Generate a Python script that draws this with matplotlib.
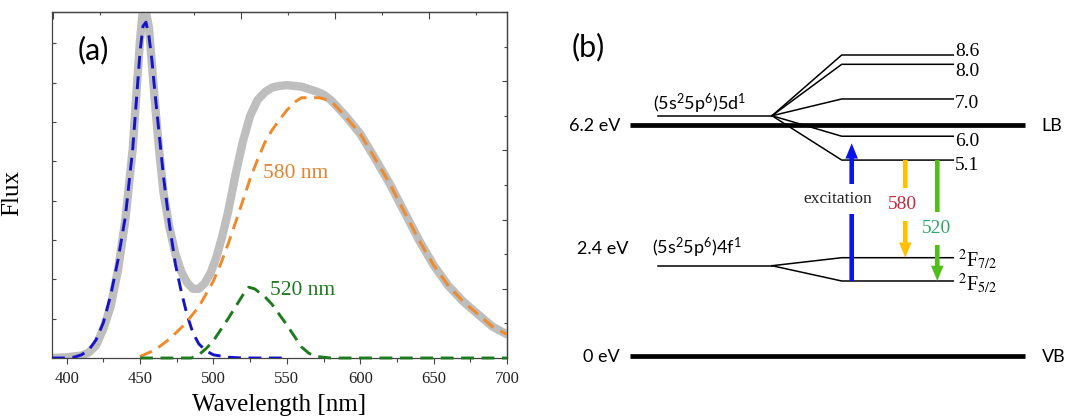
import matplotlib

matplotlib.use("Agg")

import matplotlib.pyplot as plt
import numpy as np
from matplotlib.ticker import MultipleLocator

plt.rcParams["mathtext.fontset"] = "custom"
plt.rcParams["mathtext.rm"] = "Lato"
plt.rcParams["mathtext.it"] = "Lato:italic"
plt.rcParams["mathtext.bf"] = "Lato:bold"

SERIF = ["Liberation Serif", "DejaVu Serif"]
SANS = ["Lato", "DejaVu Sans"]

# ---- panel (a): emission spectrum ----
wl_total = [390, 400, 405, 410, 415, 420, 425, 430, 435, 440, 445, 448, 450, 452, 454,
            456, 458, 460, 463, 466, 470, 474, 478, 482, 486, 490, 494, 498, 502, 506,
            510, 515, 520, 525, 530, 535, 540, 545, 550, 555, 560, 565, 570, 575, 580,
            590, 600, 610, 620, 630, 640, 650, 660, 670, 680, 690, 700]
flux_total = [0.0, 0.01, 0.02, 0.03, 0.07, 0.16, 0.37, 0.66, 1.12, 1.76, 2.66, 3.50, 4.05,
              4.45, 4.40, 4.21, 3.75, 3.28, 2.64, 2.10, 1.66, 1.33, 1.10, 0.96, 0.88, 0.88,
              0.95, 1.08, 1.28, 1.55, 1.86, 2.33, 2.75, 3.08, 3.28, 3.38, 3.44, 3.46, 3.47,
              3.46, 3.45, 3.42, 3.39, 3.35, 3.28, 3.08, 2.85, 2.54, 2.22, 1.86, 1.50, 1.18,
              0.92, 0.72, 0.56, 0.40, 0.30]

wl_blue = [390, 400, 405, 410, 415, 420, 425, 430, 435, 440, 445, 448, 450, 452, 454, 456,
           458, 460, 463, 466, 470, 474, 478, 482, 486, 490, 495, 500, 510, 520, 550]
flux_blue = [0.0, 0.0, 0.01, 0.04, 0.10, 0.23, 0.45, 0.80, 1.25, 1.80, 2.66, 3.40, 3.90,
             4.22, 4.27, 4.10, 3.80, 3.40, 2.85, 2.30, 1.70, 1.20, 0.85, 0.55, 0.32, 0.18,
             0.09, 0.04, 0.01, 0.0, 0.0]

wl_orange = [450, 460, 470, 480, 490, 500, 505, 510, 515, 520, 525, 530, 535, 540, 545,
             550, 555, 560, 572, 580, 590, 600, 610, 620, 630, 640, 650, 660, 670, 680,
             690, 700]
flux_orange = [0.02, 0.10, 0.24, 0.42, 0.65, 0.98, 1.20, 1.45, 1.72, 2.00, 2.28, 2.52,
               2.74, 2.90, 3.03, 3.15, 3.25, 3.31, 3.31, 3.27, 3.07, 2.85, 2.54, 2.22,
               1.86, 1.50, 1.18, 0.92, 0.72, 0.56, 0.40, 0.30]

wl_green = [450, 485, 490, 495, 500, 505, 510, 515, 520, 524, 528, 535, 540, 545, 550,
            555, 560, 565, 570, 580, 700]
flux_green = [0.0, 0.0, 0.04, 0.12, 0.22, 0.36, 0.50, 0.65, 0.80, 0.90, 0.88, 0.78, 0.68,
              0.55, 0.42, 0.28, 0.14, 0.06, 0.02, 0.0, 0.0]

# ---- panel (b): energy level scheme (eV, positions as drawn) ----
band_names = ["LB", "VB"]
band_energies = [6.2, 0.0]
band_labels = ["6.2 eV", "0 eV"]

level_5d = 6.44
split_5d = [8.07, 7.82, 6.89, 5.89, 5.25]
split_5d_labels = ["8.6", "8.0", "7.0", "6.0", "5.1"]
split_5d_label_y = [8.22, 7.68, 6.82, 5.79, 5.17]

level_4f = 2.415
split_4f = [2.63, 2.005]
split_4f_labels = [r"$^{2}$F$_{7/2}$", r"$^{2}$F$_{5/2}$"]
split_4f_label_y = [2.39, 1.76]

transition_names = ["excitation", "580", "520"]
transition_from = [2.005, 5.25, 5.25]
transition_to = [5.70, 2.63, 2.005]
transition_colors = ["#0A14E8", "#FFC000", "#52BE1A"]
transition_text_colors = ["#222222", "#C8283A", "#2EA868"]
transition_label_y = [4.20, 4.06, 3.42]


def draw_spectrum(ax):
    ax.plot(wl_total, flux_total, color="#BEBEBE", lw=6.0, solid_capstyle="round", zorder=2)
    dash = (0, (4.4, 2.6))
    ax.plot(wl_blue, flux_blue, color="#1414C8", lw=2.1, ls=dash, zorder=3)
    ax.plot(wl_orange, flux_orange, color="#EE8A2A", lw=2.1, ls=dash, zorder=3)
    ax.plot(wl_green, flux_green, color="#1E7A1E", lw=2.1, ls=dash, zorder=3, clip_on=False)

    ax.set_xlim(390, 700)
    ax.set_ylim(0, 4.4)

    ax.xaxis.set_major_locator(MultipleLocator(50))
    ax.xaxis.set_minor_locator(MultipleLocator(25))
    ax.yaxis.set_major_locator(MultipleLocator(0.5))
    ax.tick_params(axis="x", which="major", direction="out", length=4.3, width=0.8,
                   color="#444444", pad=5, labelsize=12, top=False)
    ax.tick_params(axis="x", which="minor", direction="out", length=2.6, width=0.8,
                   color="#444444", top=False)
    ax.tick_params(axis="y", which="both", direction="in", length=3, width=0.8,
                   color="#444444", labelleft=False, right=False)
    for label in ax.get_xticklabels():
        label.set_family(SERIF)
        label.set_color("#222222")

    top = ax.secondary_xaxis("top", functions=(lambda x: (x - 454.9) / 63.9 + 1,
                                               lambda t: (t - 1) * 63.9 + 454.9))
    top.xaxis.set_major_locator(MultipleLocator(1))
    top.xaxis.set_minor_locator(MultipleLocator(0.5))
    top.tick_params(which="major", direction="in", length=5, width=0.8, color="#444444",
                    labeltop=False)
    top.tick_params(which="minor", direction="in", length=2.5, width=0.8, color="#444444")

    right = ax.secondary_yaxis("right", functions=(lambda v: v * 10 / 4.4,
                                                   lambda v: v * 4.4 / 10))
    right.yaxis.set_major_locator(MultipleLocator(2))
    right.yaxis.set_minor_locator(MultipleLocator(1))
    right.tick_params(which="major", direction="in", length=3.6, width=0.8,
                      color="#444444", labelright=False)
    right.tick_params(which="minor", direction="in", length=2.2, width=0.8, color="#444444")

    for sec in (top, right):
        for spine in sec.spines.values():
            spine.set_color("#444444")
            spine.set_linewidth(0.9)
    for spine in ax.spines.values():
        spine.set_color("#444444")
        spine.set_linewidth(0.9)

    ax.set_xlabel("Wavelength [nm]", family=SERIF, fontsize=18, labelpad=5)
    ax.set_ylabel("Flux", family=SERIF, fontsize=18)
    ax.yaxis.set_label_coords(-0.064, 0.477)

    ax.text(533.9, 2.34, "580 nm", color="#E8822A", family=SERIF, fontsize=15.5,
            va="center", ha="left")
    ax.text(538.7, 0.86, "520 nm", color="#1E7A1E", family=SERIF, fontsize=15.5,
            va="center", ha="left")
    ax.text(0.091, 0.89, "(a)", transform=ax.transAxes, family=SANS, fontsize=22,
            ha="center", va="center")


def draw_levels(ax):
    # horizontal layout of the scheme (fractions of the band-line length)
    u_left, u_right = 0.0, 1.0
    u_free = (0.0709, 0.3595)
    u_split = (0.536, 0.8185)
    u_arrows = [0.5613, 0.697, 0.778]
    u_text = [0.5266, 0.691, 0.776]

    for name, energy, label in zip(band_names, band_energies, band_labels):
        ax.plot([u_left, u_right], [energy, energy], color="black", lw=3.4,
                solid_capstyle="butt", zorder=2)
        ax.text(-0.025, energy, label, family=SANS, fontsize=13, ha="right",
                va="center_baseline")
        ax.text(1.042, energy, name, family=SANS, fontsize=13, ha="left",
                va="center_baseline")

    for free_y, splits in ((level_5d, split_5d), (level_4f, split_4f)):
        ax.plot(u_free, [free_y, free_y], color="black", lw=1.1, zorder=3)
        for y in splits:
            ax.plot([u_free[1], u_split[0], u_split[1]], [free_y, y, y], color="black",
                    lw=1.1, zorder=3)

    for y, label in zip(split_5d_label_y, split_5d_labels):
        ax.text(0.823, y, label, family=SERIF, fontsize=14, ha="left",
                va="center_baseline")
    for y, label in zip(split_4f_label_y, split_4f_labels):
        ax.text(0.83, y, label, family=SERIF, fontsize=14.5, ha="left", va="baseline",
                math_fontfamily="stix")

    ax.text(0.058, 6.60, r"(5s$^2$5p$^6$)5d$^1$", family=SANS, fontsize=13, ha="left",
            va="baseline")
    ax.text(0.0557, 2.72, r"(5s$^2$5p$^6$)4f$^1$", family=SANS, fontsize=13, ha="left",
            va="baseline")
    ax.text(-0.005, 2.72, "2.4 eV", family=SANS, fontsize=13, ha="right", va="baseline")
    ax.text(-0.147, 8.28, "(b)", family=SANS, fontsize=22, ha="left", va="center")

    for i, name in enumerate(transition_names):
        ax.annotate("", xy=(u_arrows[i], transition_to[i]),
                    xytext=(u_arrows[i], transition_from[i]),
                    arrowprops=dict(arrowstyle="simple,head_length=1.1,head_width=0.9,"
                                               "tail_width=0.33",
                                    mutation_scale=10, color=transition_colors[i], lw=0,
                                    shrinkA=0, shrinkB=0),
                    zorder=4)
        size = 12.5 if name == "excitation" else 14
        ax.text(u_text[i], transition_label_y[i], name, family=SERIF, fontsize=size,
                color=transition_text_colors[i], ha="center", va="center", zorder=6,
                bbox=dict(boxstyle="square,pad=0.42", fc="white", ec="none"))

    ax.set_xlim(-0.2278, 1.1013)
    ax.set_ylim(-1.672, 9.546)
    ax.axis("off")


def main():
    fig = plt.figure(figsize=(10.65, 4.18), dpi=100)
    ax_a = fig.add_axes([52 / 1065, 60 / 418, 455 / 1065, 346 / 418])
    ax_b = fig.add_axes([540 / 1065, 0, 525 / 1065, 1])
    draw_spectrum(ax_a)
    draw_levels(ax_b)
    fig.savefig("out.png", dpi=100)
    plt.close(fig)


if __name__ == "__main__":
    main()
